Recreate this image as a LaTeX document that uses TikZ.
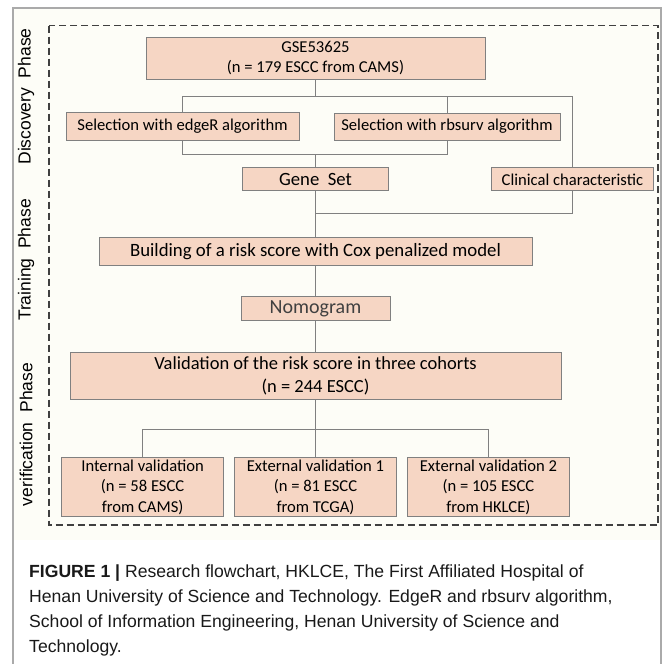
\documentclass[tikz,border=0pt]{standalone}
\usepackage{fontspec}
\setmainfont{Carlito}
\newfontfamily\phasefont{Liberation Sans}
\newfontfamily\capfont{Liberation Sans}
\usetikzlibrary{positioning}
\definecolor{boxfill}{RGB}{246,214,196}
\definecolor{boxline}{RGB}{128,128,128}
\definecolor{framegray}{RGB}{170,170,170}
\definecolor{paper}{RGB}{253,253,247}
\tikzset{
    block/.style={
        draw=boxline, line width=0.9pt, rectangle, fill=boxfill, inner sep=0pt, align=center, text=black, font=\fontsize{16.6}{20.5}\selectfont
    },
    link/.style={
        draw=boxline, line width=0.9pt
    },
    phase/.style={
        rotate=90, font=\phasefont\fontsize{17.5}{20}\selectfont, text=black
    }
}

\begin{document}
\begin{tikzpicture}[x=1pt, y=-1pt]
    \useasboundingbox (0,0) rectangle (663,664);

    % frame
    \fill[paper] (13,8) rectangle (661,540);
    \draw[framegray, line width=1.5pt] (13,664) -- (13,8) -- (661,8) -- (661,664);
    \draw[black!75, line width=1.1pt, dash pattern=on 7pt off 4pt] (49,25.5) rectangle (658,525);

    % nodes
    \node (gse) [block, minimum width=339pt, minimum height=42pt] at (315.5,58) {GSE53625\\(n = 179 ESCC from CAMS)};
    \node (edger) [block, minimum width=233pt, minimum height=28pt] at (182.5,126) {Selection with edgeR algorithm};
    \node (rbsurv) [block, minimum width=226pt, minimum height=27pt] at (447,126.5) {Selection with rbsurv algorithm};
    \node (geneset) [block, minimum width=146pt, minimum height=23pt, below=88pt of gse, font=\fontsize{18.7}{22}\selectfont] {Gene\ \ Set};
    \node (clinical) [block, minimum width=162pt, minimum height=23pt, right=102pt of geneset] {Clinical characteristic};
    \node (building) [block, minimum width=433pt, minimum height=28pt, below=46pt of geneset, font=\fontsize{18.8}{22}\selectfont] {Building of a risk score with Cox penalized model};
    \node (nomogram) [block, minimum width=149pt, minimum height=24pt, below=30pt of building, font=\fontsize{20}{24}\selectfont, text=black!75] {Nomogram};
    \node (validation) [block, minimum width=491pt, minimum height=47pt, below=31pt of nomogram, font=\fontsize{18.5}{23}\selectfont] {Validation of the risk score in three cohorts\\(n = 244 ESCC)};
    \node (ext1) [block, minimum width=162pt, minimum height=59pt, below=57pt of validation] {External validation 1\\(n = 81 ESCC\\from TCGA)};
    \node (internal) [block, minimum width=162pt, minimum height=59pt, left=10pt of ext1] {Internal validation\\(n = 58 ESCC\\from CAMS)};
    \node (ext2) [block, minimum width=162pt, minimum height=59pt, right=10pt of ext1] {External validation 2\\(n = 105 ESCC\\from HKLCE)};

    % phases
    \node (disc) [phase] at (26,96.5) {Discovery\ \ Phase};
    \node (train) [phase] at (26,260) {Training\ \ Phase};
    \node (verif) [phase] at (26,434.5) {verification\ \ Phase};

    % connectors
    \draw [link] (gse.south) -- ++(0,17) -| (edger.north);
    \draw [link] (gse.south) -- ++(0,17) -| (rbsurv.north);
    \draw [link] (gse.south) -- ++(0,17) -| (clinical.north);
    \draw [link] (edger.south) -- ++(0,13.5) -| (rbsurv.south);
    \draw [link] (geneset.north) -- ++(0,-13.5);
    \draw [link] (geneset.south) -- (building.north);
    \draw [link] (clinical.south) -- ++(0,22) -| (building.north);
    \draw [link] (building) -- (nomogram);
    \draw [link] (nomogram) -- (validation);
    \draw [link] (validation.south) -- ++(0,29) -| (internal.north);
    \draw [link] (validation.south) -- ++(0,29) -| (ext2.north);
    \draw [link] (validation.south) -- (ext1.north);

    % caption
    \node (caption) [anchor=north west, inner sep=0pt, align=left, font=\capfont\fontsize{17.6}{25}\selectfont, text=black!90] at (29,565) {\textbf{FIGURE 1 |} Research flowchart, HKLCE, The First Affiliated Hospital of\\Henan University of Science and Technology. EdgeR and rbsurv algorithm,\\School of Information Engineering, Henan University of Science and\\Technology.};

\end{tikzpicture}
\end{document}
